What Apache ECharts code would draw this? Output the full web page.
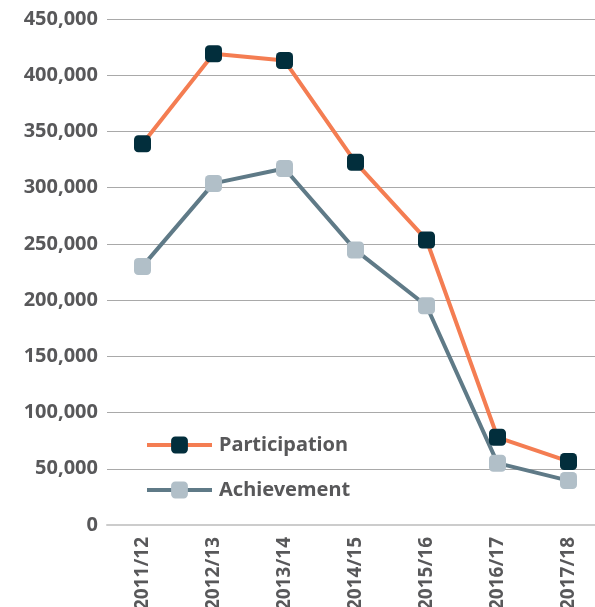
<!DOCTYPE html>
<html>
<head>
<meta charset="utf-8">
<script src="https://cdn.jsdelivr.net/npm/echarts@6/dist/echarts.min.js"></script>
<style>
  html, body { margin: 0; padding: 0; background: #fff; }
  #chart { width: 595px; height: 607px; }
</style>
</head>
<body>
<div id="chart"></div>
<script>
const years = ["2011/12", "2012/13", "2013/14", "2014/15", "2015/16", "2016/17", "2017/18"];
const participation = [339000, 419000, 413000, 322500, 253500, 78000, 56500];
const achievement = [230000, 303800, 317000, 244500, 195000, 55000, 39500];

const font = "'Noto Sans', sans-serif";
const textColor = "#58585a";

const chart = echarts.init(document.getElementById("chart"));
chart.setOption({
  animation: false,
  grid: { left: 107, right: -9, top: 19, bottom: 82, containLabel: false, outerBoundsMode: "none" },
  legend: {
    left: 140,
    top: 430,
    orient: "vertical",
    itemWidth: 65,
    itemHeight: 21,
    itemGap: 25,
    lineStyle: { width: 4 },
    textStyle: { fontFamily: font, fontSize: 20, fontWeight: "bold", color: textColor, padding: [0, 0, 0, 2] },
    data: ["Participation", "Achievement"]
  },
  xAxis: {
    type: "category",
    data: years,
    boundaryGap: true,
    axisLine: { lineStyle: { color: "#cccccc", width: 2 } },
    axisTick: { show: false },
    axisLabel: {
      rotate: 90,
      margin: 12,
      fontFamily: font,
      fontSize: 19,
      fontWeight: "bold",
      color: textColor
    }
  },
  yAxis: {
    type: "value",
    min: 0,
    max: 450000,
    interval: 50000,
    axisLine: { show: false },
    axisTick: { show: false },
    splitLine: { lineStyle: { color: "#a9a9a9", width: 1 } },
    axisLabel: {
      margin: 9,
      fontFamily: font,
      fontSize: 20,
      fontWeight: "bold",
      color: textColor,
      formatter: v => v.toLocaleString("en-US")
    }
  },
  series: [
    {
      name: "Participation",
      type: "line",
      data: participation,
      symbol: "roundRect",
      symbolSize: 17,
      lineStyle: { color: "#f47d52", width: 4 },
      itemStyle: { color: "#022e3c", borderWidth: 0 }
    },
    {
      name: "Achievement",
      type: "line",
      data: achievement,
      symbol: "roundRect",
      symbolSize: 17,
      lineStyle: { color: "#5f7a87", width: 4 },
      itemStyle: { color: "#b1bfc8", borderWidth: 0 }
    }
  ]
});
</script>
</body>
</html>
